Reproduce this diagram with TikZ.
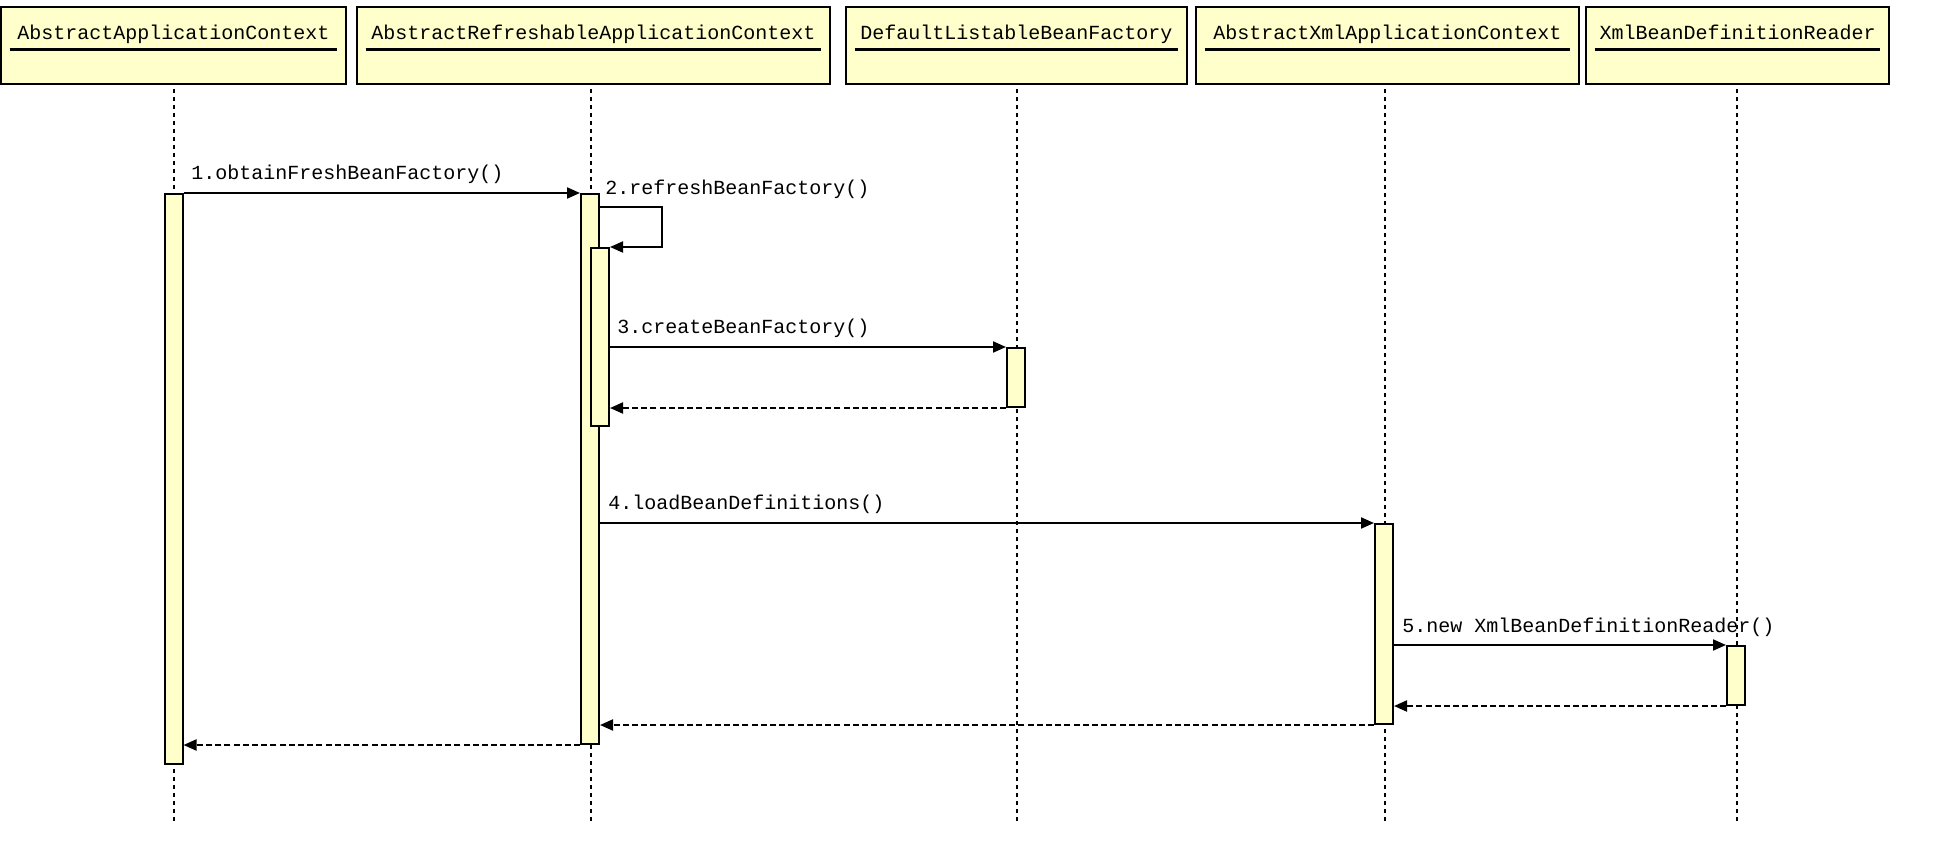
\documentclass[tikz,border=0pt]{standalone}
\usepackage{fontspec}
\setmonofont{Liberation Mono}
\usetikzlibrary{arrows.meta,calc}
\definecolor{boxfill}{RGB}{255,255,204}
\tikzset{
  lifebox/.style={draw=black, line width=1.4pt, fill=boxfill, rectangle, inner sep=0pt, minimum height=38.5pt},
  boxtitle/.style={anchor=base, inner sep=0pt, font=\ttfamily\fontsize{10}{12}\selectfont},
  uline/.style={line width=1.4pt},
  lifeline/.style={line width=0.8pt, dash pattern=on 2pt off 2pt},
  actbar/.style={draw=black, line width=1pt, fill=boxfill, rectangle, inner sep=0pt, minimum width=9pt, anchor=north},
  msg/.style={line width=1pt, -{Triangle[length=6.5pt,width=5.5pt]}},
  retmsg/.style={line width=1pt, dash pattern=on 3pt off 1.6pt, -{Triangle[length=6.5pt,width=5.5pt]}},
  msglabel/.style={anchor=base west, inner sep=0pt, font=\ttfamily\fontsize{10}{12}\selectfont}
}
\begin{document}
\begin{tikzpicture}[x=0.5pt,y=-0.5pt]
\useasboundingbox (0,0) rectangle (1958,866);
% header boxes
\node[lifebox, minimum width=172.5pt] (b1) at (173.5,45.5) {};
\node[lifebox, minimum width=236.5pt] (b2) at (593.5,45.5) {};
\node[lifebox, minimum width=170.5pt] (b3) at (1016.5,45.5) {};
\node[lifebox, minimum width=191.5pt] (b4) at (1387.5,45.5) {};
\node[lifebox, minimum width=151.5pt] (b5) at (1737.5,45.5) {};
\node[boxtitle] (t1) at (173.5,40) {AbstractApplicationContext};
\node[boxtitle] (t2) at (593.5,40) {AbstractRefreshableApplicationContext};
\node[boxtitle] (t3) at (1016.5,40) {DefaultListableBeanFactory};
\node[boxtitle] (t4) at (1387.5,40) {AbstractXmlApplicationContext};
\node[boxtitle] (t5) at (1737.5,40) {XmlBeanDefinitionReader};
\foreach \b in {b1,b2,b3,b4,b5}{
  \draw[uline] ($(\b.north west)+(10,44)$) -- ($(\b.north east)+(-10,44)$);
}
% lifelines
\coordinate (l1t) at (174,89);  \coordinate (l1b) at (174,822);
\coordinate (l2t) at (591,89);  \coordinate (l2b) at (591,822);
\coordinate (l3t) at (1017,89); \coordinate (l3b) at (1017,822);
\coordinate (l4t) at (1385,89); \coordinate (l4b) at (1385,822);
\coordinate (l5t) at (1737,89); \coordinate (l5b) at (1737,822);
\draw[lifeline] (l1t) -- (l1b);
\draw[lifeline] (l2t) -- (l2b);
\draw[lifeline] (l3t) -- (l3b);
\draw[lifeline] (l4t) -- (l4b);
\draw[lifeline] (l5t) -- (l5b);
% activation bars
\node[actbar, minimum height=285pt] (a1) at (173.5,193) {};
\node[actbar, minimum height=275pt] (a2) at (590,193) {};
\node[actbar, minimum height=89pt] (n2) at (600,247) {};
\node[actbar, minimum height=29.5pt] (a3) at (1016,347) {};
\node[actbar, minimum height=100pt] (a4) at (1384,523) {};
\node[actbar, minimum height=29.5pt] (a5) at (1736,645) {};
% messages
\draw[msg] (a1.north east) -- (a2.north west);
\draw[msg] (a2.north east) ++(0,14) -- ++(62,0) |- (n2.north east);
\draw[msg] (n2.east |- a3.north) -- (a3.north west);
\draw[retmsg] (a3.south west) -- (n2.east |- a3.south);
\draw[msg] (a2.east |- a4.north) -- (a4.north west);
\draw[msg] (a4.east |- a5.north) -- (a5.north west);
\draw[retmsg] (a5.south west) -- (a4.east |- a5.south);
\draw[retmsg] (a4.south west) -- (a2.east |- a4.south);
\draw[retmsg] (a2.south west) -- (a1.east |- a2.south);
% labels
\node[msglabel] (m1) at (191,180) {1.obtainFreshBeanFactory()};
\node[msglabel] (m2) at (605,195) {2.refreshBeanFactory()};
\node[msglabel] (m3) at (617,333) {3.createBeanFactory()};
\node[msglabel] (m4) at (608,509) {4.loadBeanDefinitions()};
\node[msglabel] (m5) at (1402,632) {5.new XmlBeanDefinitionReader()};
\end{tikzpicture}
\end{document}
